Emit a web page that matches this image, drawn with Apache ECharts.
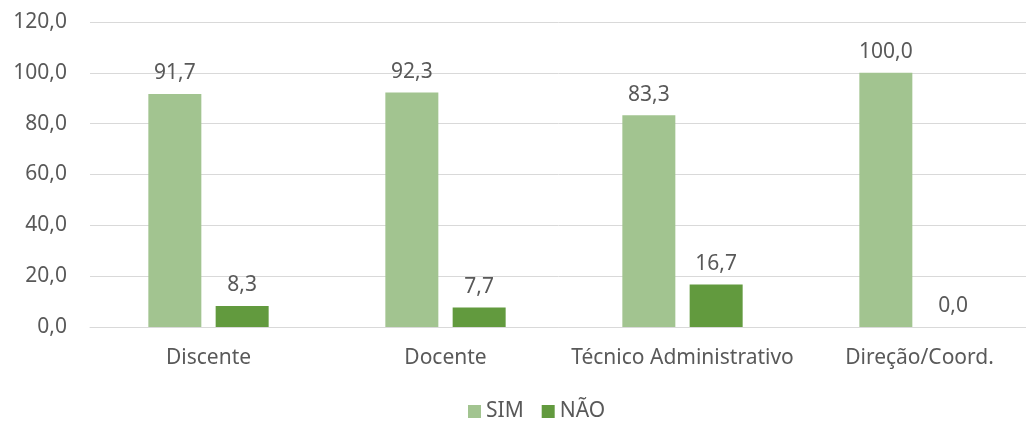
<!DOCTYPE html>
<html>
<head>
<meta charset="utf-8">
<script src="https://cdn.jsdelivr.net/npm/echarts@6/dist/echarts.min.js"></script>
<style>
  html, body { margin: 0; padding: 0; background: #fff; }
  #chart { width: 1026px; height: 421px; }
</style>
</head>
<body>
<div id="chart"></div>
<script>
const categories = ['Discente', 'Docente', 'Técnico Administrativo', 'Direção/Coord.'];
const simData = [91.7, 92.3, 83.3, 100.0];
const naoData = [8.3, 7.7, 16.7, 0.0];
const seriesNames = ['SIM', 'NÃO'];

const fmt = (v) => Number(v).toFixed(1).replace('.', ',');
const textColor = '#595959';
const fontFamily = 'Noto Sans';
const fs = 21;

const chart = echarts.init(document.getElementById('chart'));
chart.setOption({
  animation: false,
  textStyle: { fontFamily: fontFamily },
  grid: {
    left: 90,
    top: 22,
    width: 948,
    height: 305,
    outerBoundsMode: 'none',
  },
  legend: {
    bottom: -6,
    left: 463,
    itemWidth: 13,
    itemHeight: 13,
    itemGap: 18,
    icon: 'rect',
    textStyle: { color: textColor, fontSize: fs, fontFamily: fontFamily },
    data: seriesNames,
  },
  xAxis: {
    type: 'category',
    data: categories,
    axisLine: { lineStyle: { color: '#d9d9d9', width: 1 } },
    axisTick: { show: false },
    axisLabel: { color: textColor, fontSize: fs, margin: 21, interval: 0 },
  },
  yAxis: {
    type: 'value',
    min: 0,
    max: 120,
    interval: 20,
    axisLine: { show: false },
    axisTick: { show: false },
    splitLine: { lineStyle: { color: '#d9d9d9', width: 1 } },
    axisLabel: { color: textColor, fontSize: fs, margin: 23, formatter: fmt },
  },
  series: [
    {
      name: seriesNames[0],
      type: 'bar',
      data: simData,
      barWidth: 53,
      barGap: '27%',
      itemStyle: { color: '#a2c490' },
      label: { show: true, position: 'top', distance: 10, color: textColor, fontSize: fs, formatter: (p) => fmt(p.value) },
    },
    {
      name: seriesNames[1],
      type: 'bar',
      data: naoData,
      barWidth: 53,
      itemStyle: { color: '#629a3e' },
      label: { show: true, position: 'top', distance: 10, color: textColor, fontSize: fs, formatter: (p) => fmt(p.value) },
    },
  ],
});
</script>
</body>
</html>
